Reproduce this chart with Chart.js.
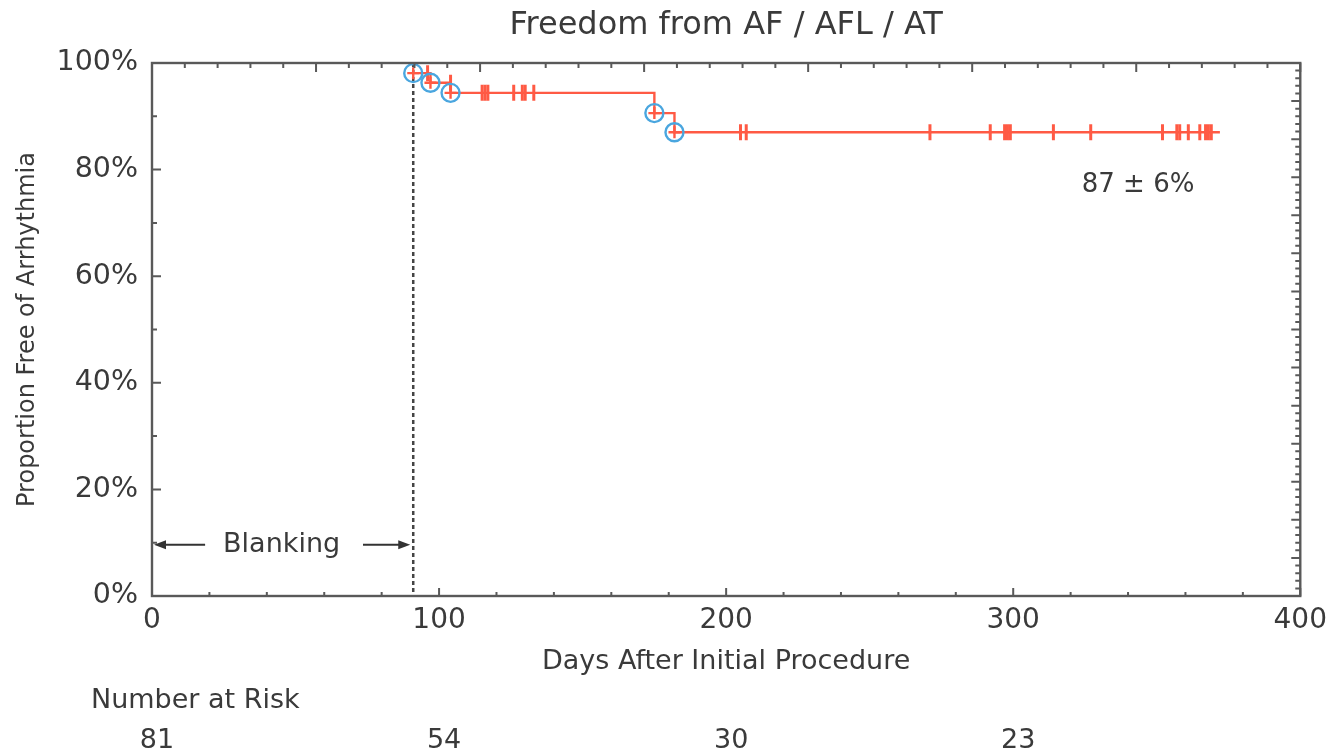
<!DOCTYPE html>
<html>
<head>
<meta charset="utf-8">
<script src="https://cdn.jsdelivr.net/npm/chart.js@4.4.1/dist/chart.umd.min.js"></script>
<style>
  html, body { margin: 0; padding: 0; background: #ffffff; }
  canvas { display: block; }
</style>
</head>
<body>
<canvas id="c" width="1335" height="753"></canvas>
<script>
// ---- Data ----
const chartTitle = 'Freedom from AF / AFL / AT';
const xTitle = 'Days After Initial Procedure';
const yTitle = 'Proportion Free of Arrhythmia';

// Kaplan-Meier step curve (days, % free)
const kmDays = [91, 97, 104, 175, 182, 372];
const kmSurv = [98.1, 96.3, 94.4, 90.6, 87.0, 87.0];

// Events (circled)
const eventDays = [91, 97, 104, 175, 182];
const eventSurv = [98.1, 96.3, 94.4, 90.6, 87.0];

// Censored observations (tick marks)
const censorDays = [96, 104, 115, 116, 117, 126, 129, 130, 133,
                    205, 207, 271, 292, 297, 298, 299, 314, 327,
                    352, 357, 358, 361, 365, 367, 368, 369];
const censorSurv = [98.1, 96.3, 94.4, 94.4, 94.4, 94.4, 94.4, 94.4, 94.4,
                    87, 87, 87, 87, 87, 87, 87, 87, 87,
                    87, 87, 87, 87, 87, 87, 87, 87];

// Number at risk
const riskLabel = 'Number at Risk';
const riskDays = [0, 100, 200, 300];
const riskCounts = [81, 54, 30, 23];

// Annotations
const blankingDay = 91;
const blankingLabel = 'Blanking';
const blankingLevel = 9.6;
const finalLabel = '87 \u00B1 6%';
const finalLabelPos = [343.5, 77];

const xTicks = [0, 100, 200, 300, 400];
const yTicks = [0, 20, 40, 60, 80, 100];

// ---- Styles ----
const FONT = 'DejaVu Sans';
const TEXT = '#3a3a3a';
const AXIS = '#595959';
const RED = '#ff5a44';
const BLUE = '#4aa6df';

const toXY = (xs, ys) => xs.map((x, i) => ({ x: x, y: ys[i] }));

const decor = {
  id: 'decor',
  beforeDatasetsDraw(chart) {
    const { ctx, chartArea: a, scales: { x, y } } = chart;
    ctx.save();
    // blanking dashed line
    const bx = x.getPixelForValue(blankingDay);
    ctx.strokeStyle = '#444';
    ctx.lineWidth = 2.5;
    ctx.setLineDash([4, 3]);
    ctx.beginPath();
    ctx.moveTo(bx, a.top);
    ctx.lineTo(bx, a.bottom);
    ctx.stroke();
    ctx.setLineDash([]);

    // blanking arrows + label
    const by = y.getPixelForValue(blankingLevel);
    ctx.fillStyle = TEXT;
    ctx.font = '27px "' + FONT + '"';
    ctx.textAlign = 'center';
    ctx.textBaseline = 'middle';
    const cx = x.getPixelForValue(45.5);
    ctx.fillText(blankingLabel, cx - 1, by);
    const arrow = (x0, x1) => {
      const dir = Math.sign(x1 - x0);
      ctx.strokeStyle = '#333';
      ctx.lineWidth = 2;
      ctx.beginPath();
      ctx.moveTo(x0, by);
      ctx.lineTo(x1 - dir * 8, by);
      ctx.stroke();
      ctx.fillStyle = '#333';
      ctx.beginPath();
      ctx.moveTo(x1, by);
      ctx.lineTo(x1 - dir * 12, by - 4.5);
      ctx.lineTo(x1 - dir * 12, by + 4.5);
      ctx.closePath();
      ctx.fill();
    };
    arrow(x.getPixelForValue(18.5), a.left + 2);
    arrow(x.getPixelForValue(73.5), bx - 3);
    ctx.restore();
  },
  afterDatasetsDraw(chart) {
    const { ctx, chartArea: a, scales: { x, y } } = chart;
    ctx.save();
    // frame
    ctx.strokeStyle = AXIS;
    ctx.lineWidth = 2.4;
    ctx.strokeRect(a.left, a.top, a.right - a.left, a.bottom - a.top);

    ctx.lineWidth = 2;
    ctx.beginPath();
    // bottom ticks: minor every 20, major every 100
    for (let v = 0; v <= 400; v += 20) {
      const px = x.getPixelForValue(v);
      const len = (v % 100 === 0) ? 8 : 4;
      ctx.moveTo(px, a.bottom);
      ctx.lineTo(px, a.bottom - len);
    }
    // top ticks: 35 divisions, long every 5
    for (let i = 0; i <= 35; i++) {
      const px = x.getPixelForValue(i * 400 / 35);
      const len = (i % 5 === 0) ? 9 : 5;
      ctx.moveTo(px, a.top);
      ctx.lineTo(px, a.top + len);
    }
    // left ticks: every 10%, long every 20%
    for (let v = 0; v <= 100; v += 10) {
      const py = y.getPixelForValue(v);
      const len = (v % 20 === 0) ? 9 : 5;
      ctx.moveTo(a.left, py);
      ctx.lineTo(a.left + len, py);
    }
    // right ticks: 70 divisions, long every 5
    for (let i = 0; i <= 70; i++) {
      const py = y.getPixelForValue(i * 100 / 70);
      const len = (i % 5 === 0) ? 9 : 5;
      ctx.moveTo(a.right, py);
      ctx.lineTo(a.right - len, py);
    }
    ctx.stroke();

    // chart title
    ctx.fillStyle = TEXT;
    ctx.textAlign = 'center';
    ctx.textBaseline = 'middle';
    ctx.font = '32px "' + FONT + '"';
    ctx.fillText(chartTitle, (a.left + a.right) / 2, 26);

    // final estimate label
    ctx.font = '26px "' + FONT + '"';
    ctx.fillText(finalLabel, x.getPixelForValue(finalLabelPos[0]), y.getPixelForValue(finalLabelPos[1]));

    // number at risk
    ctx.font = '27px "' + FONT + '"';
    ctx.textAlign = 'left';
    ctx.fillText(riskLabel, 91, 701);
    ctx.textAlign = 'center';
    riskCounts.forEach((n, i) => {
      ctx.fillText(String(n), x.getPixelForValue(riskDays[i]) + 5, 741);
    });
    ctx.restore();
  }
};

new Chart(document.getElementById('c'), {
  type: 'scatter',
  data: {
    datasets: [
      {
        label: 'events',
        data: toXY(eventDays, eventSurv),
        pointStyle: 'circle',
        pointRadius: 9,
        pointBorderWidth: 2.4,
        pointBorderColor: BLUE,
        pointBackgroundColor: 'rgba(0,0,0,0)',
        order: 0
      },
      {
        label: 'event marks',
        data: toXY(eventDays, eventSurv),
        pointStyle: 'cross',
        pointRadius: 6,
        pointBorderWidth: 2.4,
        pointBorderColor: RED,
        order: 1
      },
      {
        label: 'censored',
        data: toXY(censorDays, censorSurv),
        pointStyle: 'line',
        rotation: 90,
        pointRadius: 8,
        pointBorderWidth: 3,
        pointBorderColor: RED,
        order: 2
      },
      {
        type: 'line',
        label: 'KM',
        data: toXY(kmDays, kmSurv),
        stepped: 'before',
        borderColor: RED,
        borderWidth: 2.4,
        pointRadius: 0,
        fill: false,
        order: 3
      }
    ]
  },
  options: {
    responsive: false,
    animation: false,
    events: [],
    layout: { padding: { left: 0, right: 33, top: 63, bottom: 73 } },
    plugins: { legend: { display: false }, title: { display: false }, tooltip: { enabled: false } },
    scales: {
      x: {
        type: 'linear',
        min: 0, max: 400,
        afterFit: (s) => { s.height = 84; },
        afterBuildTicks: (s) => { s.ticks = xTicks.map(v => ({ value: v })); },
        grid: { display: false, drawTicks: false },
        border: { display: false },
        ticks: { color: TEXT, font: { family: FONT, size: 28 }, padding: 8, maxRotation: 0 },
        title: { display: true, text: xTitle, color: TEXT, font: { family: FONT, size: 27 }, padding: { top: 0, bottom: 2 } }
      },
      y: {
        type: 'linear',
        min: 0, max: 100,
        afterFit: (s) => { s.width = 152; },
        afterBuildTicks: (s) => { s.ticks = yTicks.map(v => ({ value: v })); },
        grid: { display: false, drawTicks: false },
        border: { display: false },
        ticks: { color: TEXT, font: { family: FONT, size: 28.5 }, padding: 14, callback: (v) => v + '%' },
        title: { display: true, text: yTitle, color: TEXT, font: { family: FONT, size: 24 }, padding: { top: 13, bottom: 0 } }
      }
    }
  },
  plugins: [decor]
});
</script>
</body>
</html>
